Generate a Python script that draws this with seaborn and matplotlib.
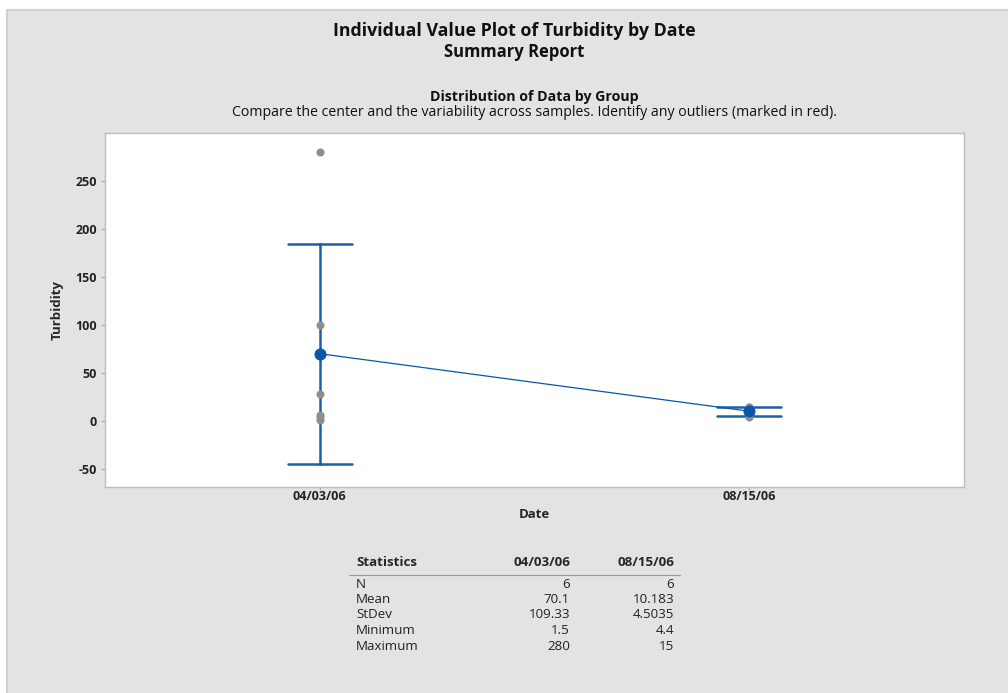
import matplotlib
matplotlib.use("Agg")
import matplotlib.pyplot as plt
from matplotlib.patches import Rectangle
from matplotlib.lines import Line2D
import numpy as np
import pandas as pd
import seaborn as sns

# Turbidity readings for each sampling date
dates = ["04/03/06", "08/15/06"]
turbidity_0403 = [280, 100, 28, 6.5, 4.6, 1.5]
turbidity_0815 = [15, 15, 12.0, 8.4, 6.3, 4.4]

y_ticks = [-50, 0, 50, 100, 150, 200, 250]
stat_names = ["N", "Mean", "StDev", "Minimum", "Maximum"]

# t critical value, 95% two sided, df = 5
T_CRIT = 2.5706

df = pd.DataFrame({
    "Date": [dates[0]] * len(turbidity_0403) + [dates[1]] * len(turbidity_0815),
    "Turbidity": turbidity_0403 + turbidity_0815,
})


def ci95(x):
    x = np.asarray(x, dtype=float)
    half = T_CRIT * x.std(ddof=1) / np.sqrt(len(x))
    return x.mean() - half, x.mean() + half


W, H = 1008, 693


def fx(px):
    return px / W


def fy(py):
    return 1 - py / H


BLUE = "#1f5fa8"
MEAN_BLUE = "#0a56a8"
GREY_PT = "#8e8e8e"
PANEL = "#e3e3e3"

sns.set_style("white")
plt.rcParams["font.family"] = ["Open Sans", "DejaVu Sans"]

fig = plt.figure(figsize=(W / 100, H / 100), dpi=100)
fig.patch.set_facecolor("white")
fig.patches.append(Rectangle((fx(7), -0.1), 1.2, fy(10) + 0.1, transform=fig.transFigure,
                             facecolor=PANEL, edgecolor="#cbcbcb", linewidth=1.2, zorder=-5))

ax = fig.add_axes([fx(105), fy(487), fx(964) - fx(105), fy(133) - fy(487)])
ax.set_zorder(1)
ax.set_facecolor("white")

sns.pointplot(data=df, x="Date", y="Turbidity", order=dates, errorbar=ci95,
              capsize=0.15, color=MEAN_BLUE, markers="o", markersize=8,
              linewidth=0.9, err_kws={"linewidth": 1.8, "color": BLUE}, ax=ax)
for ln in ax.lines:
    if ln.get_marker() == "o":
        ln.set_zorder(5)

sns.stripplot(data=df, x="Date", y="Turbidity", order=dates, jitter=False,
              color=GREY_PT, size=5.8, linewidth=0, ax=ax, zorder=4)

ax.set_xlim(-0.5, 1.5)
ax.set_ylim(-68.75, 300)
ax.set_yticks(y_ticks)
ax.set_yticklabels([str(t) for t in y_ticks], fontweight="bold", fontsize=9, color="#222222")
ax.set_xticks(range(len(dates)))
ax.set_xticklabels(dates, fontweight="bold", fontsize=9, color="#222222")
ax.tick_params(axis="y", length=3, width=0.8, color="#aaaaaa", pad=3, left=True)
ax.tick_params(axis="x", length=2, width=0.8, color="#aaaaaa", pad=0.5, bottom=True)
ax.set_xlabel("Date", fontweight="bold", fontsize=9.5, labelpad=3)
ax.set_ylabel("Turbidity", fontweight="bold", fontsize=9.5, labelpad=8)
for s in ax.spines.values():
    s.set_color("#bdbdbd")
    s.set_linewidth(1)

# headings
fig.text(fx(514), fy(31), "Individual Value Plot of Turbidity by Date", ha="center", va="center",
         fontsize=12.8, fontweight="bold", color="#111111")
fig.text(fx(514), fy(52), "Summary Report", ha="center", va="center",
         fontsize=12, fontweight="bold", color="#111111")
fig.text(fx(534), fy(97), "Distribution of Data by Group", ha="center", va="center",
         fontsize=10.2, fontweight="bold", color="#111111")
fig.text(fx(534), fy(113),
         "Compare the center and the variability across samples. Identify any outliers (marked in red).",
         ha="center", va="center", fontsize=10.2, color="#111111")

# statistics table
groups = [np.array(turbidity_0403, dtype=float), np.array(turbidity_0815, dtype=float)]
col_x = [570, 674]
fig.text(fx(356), fy(563), "Statistics", ha="left", va="center", fontsize=9.6, fontweight="bold")
for cx, d in zip(col_x, dates):
    fig.text(fx(cx), fy(563), d, ha="right", va="center", fontsize=9.6, fontweight="bold")
fig.lines.append(Line2D([fx(349), fx(680)], [fy(575), fy(575)], transform=fig.transFigure,
                        color="#9a9a9a", linewidth=0.8))

row_y = [584, 599.5, 615, 631, 646]
for name, ry in zip(stat_names, row_y):
    fig.text(fx(356), fy(ry), name, ha="left", va="center", fontsize=9.6, color="#222222")
    for cx, g in zip(col_x, groups):
        if name == "N":
            val = str(len(g))
        elif name == "Mean":
            val = "%.5g" % g.mean()
        elif name == "StDev":
            val = "%.5g" % g.std(ddof=1)
        elif name == "Minimum":
            val = "%.5g" % g.min()
        else:
            val = "%.5g" % g.max()
        fig.text(fx(cx), fy(ry), val, ha="right", va="center", fontsize=9.6, color="#222222")

fig.savefig("out.png", dpi=100)
